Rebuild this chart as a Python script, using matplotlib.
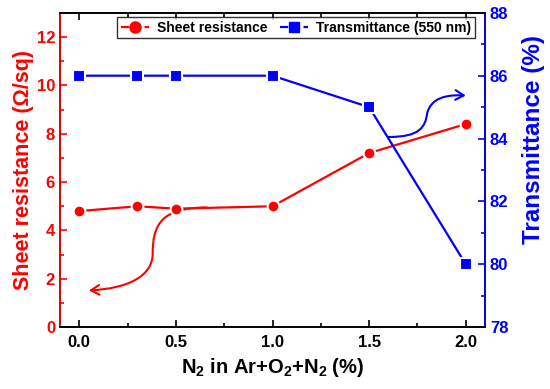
import numpy as np
import matplotlib
matplotlib.use('Agg')
import matplotlib.pyplot as plt
from matplotlib.path import Path
from matplotlib.patches import FancyArrowPatch
from matplotlib.lines import Line2D
from matplotlib.ticker import MultipleLocator, FormatStrFormatter

plt.rcParams['font.family'] = ['Liberation Sans', 'DejaVu Sans']
plt.rcParams['font.weight'] = 'bold'
plt.rcParams['mathtext.fontset'] = 'custom'
plt.rcParams['mathtext.rm'] = 'Liberation Sans:bold'
plt.rcParams['mathtext.bf'] = 'Liberation Sans:bold'
plt.rcParams['mathtext.default'] = 'bf'

# data
n2 = [0.0, 0.3, 0.5, 1.0, 1.5, 2.0]
sheet_res = [4.8, 5.0, 4.9, 5.0, 7.2, 8.4]
transmit = [86, 86, 86, 86, 85, 80]

red = '#ff0000'
blue = '#0000ff'

fig = plt.figure(figsize=(5.5, 3.89), dpi=100)
ax = fig.add_axes([0.109, 0.159, 0.773, 0.808])
ax2 = ax.twinx()

ax.plot(n2, sheet_res, color=red, lw=1.6, marker='o', ms=8.5,
        mec='white', mew=1.5, mfc=red, zorder=3)
ax2.plot(n2, transmit, color=blue, lw=1.6, marker='s', ms=8,
         mec='white', mew=1.5, mfc=blue, zorder=3)

ax.set_xlim(-0.1, 2.1)
ax.set_ylim(0, 13)
ax2.set_ylim(78, 88)

ax.xaxis.set_major_locator(MultipleLocator(0.5))
ax.xaxis.set_minor_locator(MultipleLocator(0.25))
ax.yaxis.set_major_locator(MultipleLocator(2))
ax.yaxis.set_minor_locator(MultipleLocator(1))
ax2.yaxis.set_major_locator(MultipleLocator(2))
ax2.yaxis.set_minor_locator(MultipleLocator(1))
ax.xaxis.set_major_formatter(FormatStrFormatter('%.1f'))

ax.tick_params(axis='x', which='both', direction='in', top=True, colors='black',
               labelsize=12, width=1.2)
ax.tick_params(axis='x', which='major', length=5, pad=6)
ax.tick_params(axis='x', which='minor', length=3)
ax.tick_params(axis='y', which='both', direction='in', colors=red, labelsize=12, width=1.2)
ax.tick_params(axis='y', which='major', length=5)
ax.tick_params(axis='y', which='minor', length=3)
ax2.tick_params(axis='y', which='both', direction='in', colors=blue, labelsize=12, width=1.2)
ax2.tick_params(axis='y', which='major', length=5)
ax2.tick_params(axis='y', which='minor', length=3)

for a in (ax, ax2):
    for s in a.spines.values():
        s.set_linewidth(1.2)
ax2.spines['left'].set_color(red)
ax2.spines['right'].set_color(blue)
ax2.spines['top'].set_color('black')
ax2.spines['bottom'].set_color('black')

ax.set_xlabel(r'N$_2$ in Ar+O$_2$+N$_2$ (%)', fontsize=14.5, fontweight='bold', labelpad=4)
ax.set_ylabel('Sheet resistance (\u03a9/sq)', fontsize=15.5, fontweight='bold', color=red, labelpad=2)
ax2.set_ylabel('Transmittance (%)', fontsize=17.5, fontweight='bold', color=blue)
ax2.yaxis.set_label_coords(1.087, 0.596)

# curved arrows
red_path = Path([(0.66, 4.95), (0.42, 4.95), (0.38, 4.2), (0.38, 3.05),
                 (0.38, 2.1), (0.25, 1.6), (0.05, 1.52)],
                [Path.MOVETO, Path.CURVE4, Path.CURVE4, Path.CURVE4,
                 Path.CURVE4, Path.CURVE4, Path.CURVE4])
ax.add_patch(FancyArrowPatch(path=red_path, arrowstyle='->,head_length=6,head_width=3.5',
                             color=red, lw=1.5, transform=ax.transData))

blue_path = Path([(1.60, 84.05), (1.76, 84.05), (1.79, 84.35), (1.80, 84.8),
                  (1.82, 85.3), (1.90, 85.4), (2.0, 85.37)],
                 [Path.MOVETO, Path.CURVE4, Path.CURVE4, Path.CURVE4,
                  Path.CURVE4, Path.CURVE4, Path.CURVE4])
ax2.add_patch(FancyArrowPatch(path=blue_path, arrowstyle='->,head_length=6,head_width=3.5',
                              color=blue, lw=1.5, transform=ax2.transData))

handles = [Line2D([], [], color=red, ls='--', lw=1.6, marker='o', ms=8, mfc=red, mec=red),
           Line2D([], [], color=blue, ls='--', lw=1.6, marker='s', ms=7, mfc=blue, mec=blue)]
leg = ax2.legend(handles, ['Sheet resistance', 'Transmittance (550 nm)'], ncol=2,
                 loc='upper center', bbox_to_anchor=(0.555, 0.995), fontsize=10,
                 frameon=True, fancybox=False, edgecolor='black', handlelength=2.0,
                 handletextpad=0.6, columnspacing=0.9, borderpad=0.25, borderaxespad=0.2)
leg.get_frame().set_linewidth(1.0)

fig.savefig('out.png', dpi=100)
